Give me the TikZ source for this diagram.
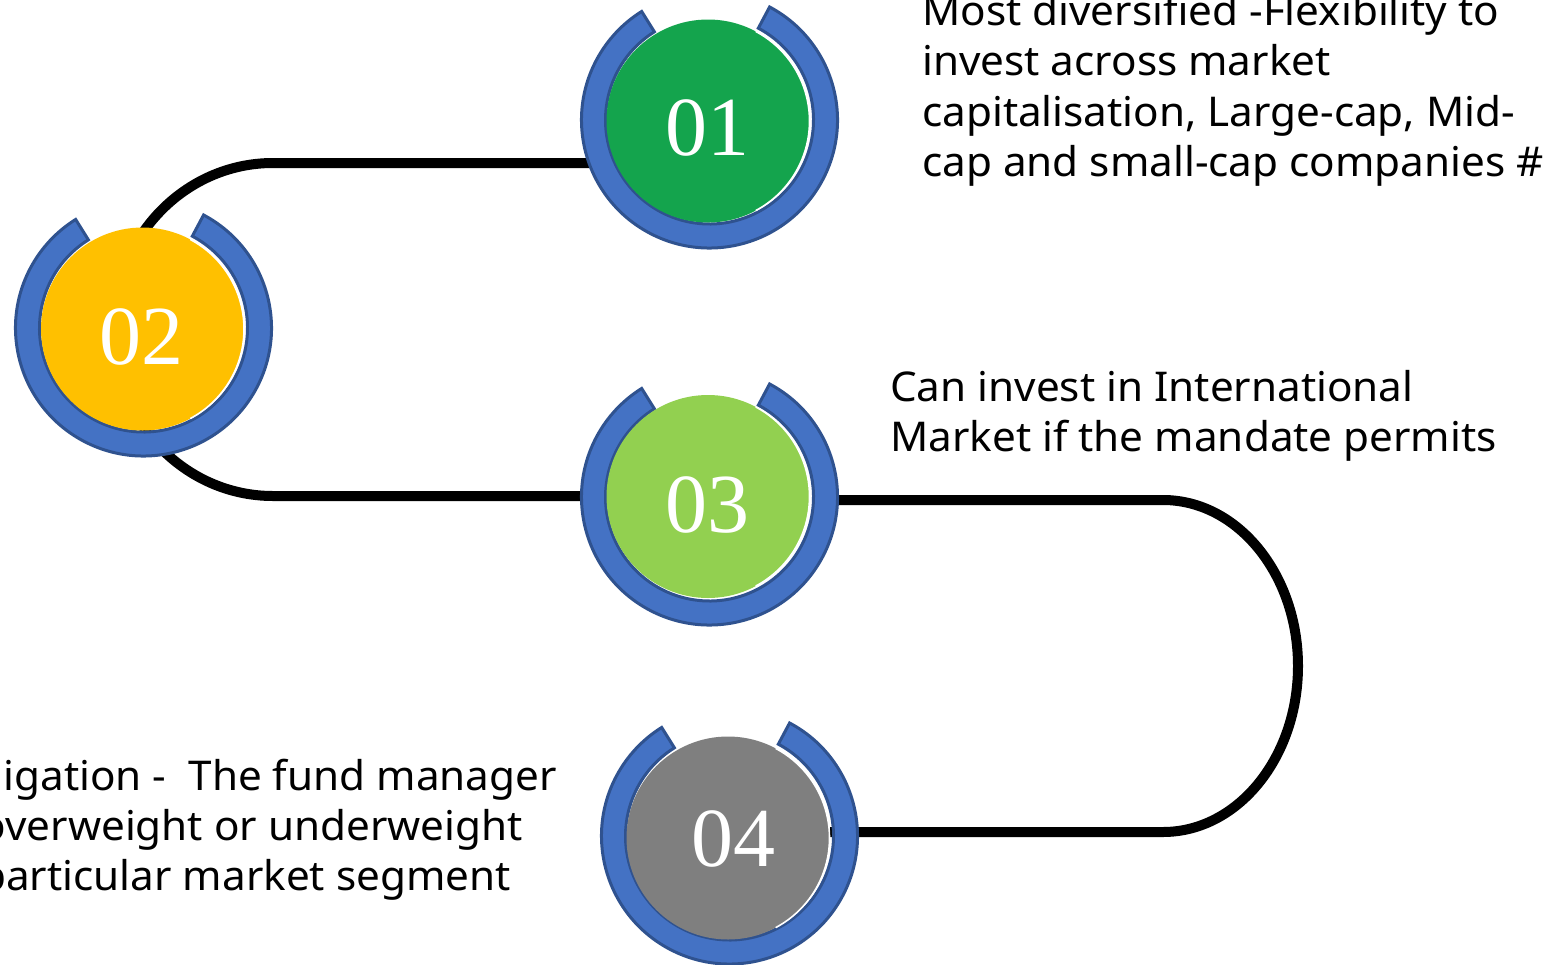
\documentclass[tikz,border=0pt]{standalone}
\usepackage{fontspec}
\setmainfont[FakeStretch=1.03]{Noto Sans}
\newfontfamily\numfont{Liberation Serif}
\definecolor{ringblue}{HTML}{4472C4}
\definecolor{ringedge}{HTML}{2F528F}
\definecolor{cgreen}{HTML}{14A44D}
\definecolor{cyellow}{HTML}{FFC000}
\definecolor{clight}{HTML}{92D050}
\definecolor{cgray}{HTML}{7F7F7F}
\tikzset{
  gapring/.pic={
    \path[fill=ringblue,draw=ringedge,line width=3pt]
      (-62:128) arc[start angle=-62,end angle=238,radius=128]
      -- (238:104) arc[start angle=238,end angle=-62,radius=104] -- cycle;
  },
  sheen/.pic={
    \draw[white,line width=1.6pt] (-62:101.5) arc[start angle=-62,end angle=62,radius=101.5];
  },
  disc/.style={circle,minimum size=203pt,inner sep=0pt,draw=none},
  num/.style={inner sep=0pt,text=white,font=\numfont\fontsize{84}{84}\selectfont},
  txt/.style={anchor=base west,inner sep=0pt,font=\fontsize{41}{50}\selectfont},
  txtr/.style={anchor=base east,inner sep=0pt,font=\fontsize{41}{50}\selectfont},
  conn/.style={line width=10pt,black},
}
\begin{document}
\begin{tikzpicture}[x=1pt,y=-1pt]
\useasboundingbox (0,0) rectangle (1566,964);
\clip (0,0) rectangle (1566,964);
% centres of the discs
\path (708,121) coordinate (p1c) (142.5,329) coordinate (p2c) (708,496.5) coordinate (p3c) (728,838) coordinate (p4c);
% connectors
\coordinate (a1) at (273,163);
\coordinate (a2) at (273,496);
\coordinate (b1) at (1163,500);
\coordinate (b2) at (1163,832);
\coordinate (e3l) at (590,496);
\coordinate (e3r) at (826,500);
\draw[conn] (p1c |- a1) -- (a1) arc[start angle=-90,end angle=-270,x radius=160,y radius=166.5] -- (e3l);
\draw[conn] (e3r) -- (b1) arc[start angle=-90,end angle=90,x radius=135,y radius=166] -- (p4c |- b2);
% rings
\pic at (709.5,120) {gapring};
\pic at (143.5,328) {gapring};
\pic at (709.5,497) {gapring};
\pic at (729.5,836) {gapring};
% discs
\node[disc,fill=cgreen] (c1) at (p1c) {};
\node[disc,fill=cyellow] (c2) at (p2c) {};
\node[disc,fill=clight] (c3) at (p3c) {};
\node[disc,fill=cgray] (c4) at (p4c) {};
\pic at (c1.center) {sheen};
\pic at (c2.center) {sheen};
\pic at (c3.center) {sheen};
\pic at (c4.center) {sheen};
% numbers
\node[num] (n1) at (707.5,128) {01};
\node[num] (n2) at (141.5,337) {02};
\node[num] (n3) at (707.5,505) {03};
\node[num] (n4) at (733,838.5) {04};
% text block 1
\node[txt] (t11) at (922,25) {Most diversified -Flexibility to};
\node[txt] (t12) at (922,75.5) {invest across market};
\node[txt] (t13) at (922,126) {capitalisation, Large-cap, Mid-};
\node[txt] (t14) at (922,176.5) {cap and small-cap companies \#};
% text block 2
\node[txt] (t21) at (890,401) {Can invest in International};
\node[txt] (t22) at (890,451) {Market if the mandate permits};
% text block 3
\node[txtr] (t31) at (557,790) {igation -\ \ The fund manager};
\node[txtr] (t32) at (523,840) {overweight or underweight};
\node[txtr] (t33) at (511,890) {particular market segment};
\end{tikzpicture}
\end{document}
